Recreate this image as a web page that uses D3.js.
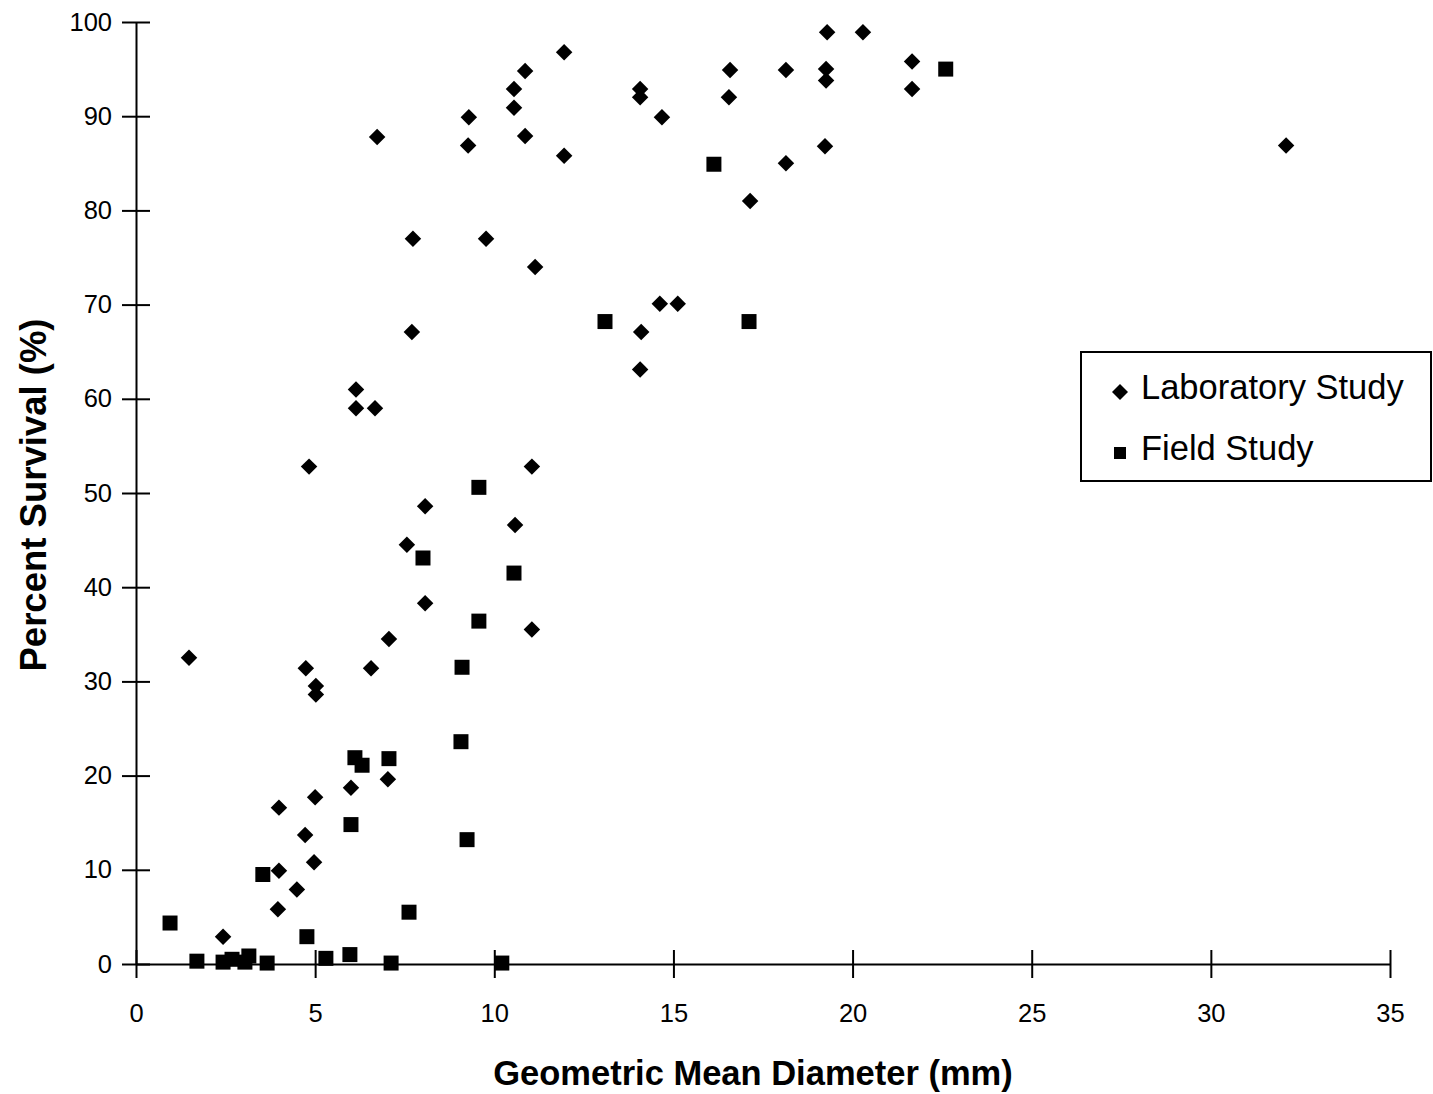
<!DOCTYPE html>
<html>
<head>
<meta charset="utf-8">
<script src="https://cdn.jsdelivr.net/npm/d3@7"></script>
<style>
  html, body { margin: 0; padding: 0; background: #fff; }
  svg { display: block; }
  text { font-family: "Liberation Sans", Arial, sans-serif; fill: #000; }
</style>
</head>
<body>
<svg id="chart" width="1433" height="1094"></svg>
<script>
// Laboratory Study: [diameter (mm), survival (%)]
const labX = [1.48, 2.43, 3.99, 3.99, 3.96, 4.49, 4.72, 4.74, 4.83, 5.02, 5.02, 5.0, 4.97, 6.0, 6.14, 6.14, 6.67, 6.56, 6.73, 7.06, 7.03, 7.56, 7.7, 7.73, 8.07, 8.07, 9.27, 9.29, 9.77, 10.55, 10.55, 10.58, 10.86, 10.86, 11.05, 11.05, 11.14, 11.95, 11.95, 14.07, 14.07, 14.1, 14.07, 14.68, 14.62, 15.12, 16.58, 16.55, 17.14, 18.14, 18.14, 19.29, 19.26, 19.26, 19.23, 20.29, 21.66, 21.66, 32.1];
const labY = [32.5, 2.9, 9.9, 16.6, 5.8, 7.9, 13.7, 31.4, 52.8, 29.5, 28.6, 17.7, 10.8, 18.7, 61.0, 59.0, 59.0, 31.4, 87.8, 34.5, 19.6, 44.5, 67.1, 77.0, 48.6, 38.3, 86.9, 89.9, 77.0, 92.9, 90.9, 46.6, 87.9, 94.8, 52.8, 35.5, 74.0, 96.8, 85.8, 92.9, 92.0, 67.1, 63.1, 89.9, 70.1, 70.1, 94.9, 92.0, 81.0, 94.9, 85.0, 98.9, 95.0, 93.8, 86.8, 98.9, 95.8, 92.9, 86.9];
// Field Study
const fieldX = [0.95, 1.7, 2.43, 2.68, 3.04, 3.15, 3.66, 3.54, 4.77, 5.3, 5.97, 7.12, 7.62, 6.0, 6.11, 6.31, 7.06, 8.01, 9.1, 9.07, 9.24, 9.57, 9.57, 10.55, 10.21, 13.09, 16.13, 17.11, 22.6];
const fieldY = [4.35, 0.3, 0.2, 0.5, 0.2, 0.85, 0.1, 9.5, 2.9, 0.6, 1.0, 0.1, 5.5, 14.8, 21.9, 21.1, 21.8, 43.1, 31.5, 23.6, 13.2, 50.6, 36.4, 41.5, 0.1, 68.2, 84.9, 68.2, 95.0];

const xTicks = [0, 5, 10, 15, 20, 25, 30, 35];
const yTicks = [0, 10, 20, 30, 40, 50, 60, 70, 80, 90, 100];
const seriesNames = ["Laboratory Study", "Field Study"];

const svg = d3.select("#chart");
const x = d3.scaleLinear().domain([0, 35]).range([136, 1390]);
const y = d3.scaleLinear().domain([0, 100]).range([964, 22]);

// X axis with crossing ticks
const xAxis = svg.append("g").attr("transform", `translate(0,${y(0)})`)
  .call(d3.axisBottom(x).tickValues(xTicks).tickSize(14).tickSizeOuter(0).tickPadding(26));
xAxis.selectAll(".tick line").attr("y1", -14).attr("stroke-width", 2);
xAxis.select(".domain").attr("stroke-width", 2);
xAxis.selectAll("text").style("font-size", "25.5px").attr("font-family", "Liberation Sans, Arial, sans-serif");

const yAxis = svg.append("g").attr("transform", `translate(${x(0)},0)`)
  .call(d3.axisLeft(y).tickValues(yTicks).tickSize(14).tickSizeOuter(0).tickPadding(10));
yAxis.selectAll(".tick line").attr("x1", 14).attr("stroke-width", 2);
yAxis.select(".domain").attr("stroke-width", 2);
yAxis.selectAll("text").style("font-size", "25.5px").attr("font-family", "Liberation Sans, Arial, sans-serif");

// Axis titles
svg.append("text").attr("x", 753).attr("y", 1085).attr("text-anchor", "middle")
  .style("font-size", "34.5px").style("font-weight", "bold").text("Geometric Mean Diameter (mm)");
svg.append("text").attr("transform", "translate(46,495) rotate(-90)").attr("text-anchor", "middle")
  .style("font-size", "36.5px").style("font-weight", "bold").text("Percent Survival (%)");

// Points
const labData = labX.map((v, i) => [v, labY[i]]);
const fieldData = fieldX.map((v, i) => [v, fieldY[i]]);
const diamond = d3.symbol().type(d3.symbolSquare).size(136);
const square = d3.symbol().type(d3.symbolSquare).size(225);

svg.append("g").selectAll("path").data(labData).join("path")
  .attr("d", diamond)
  .attr("transform", d => `translate(${x(d[0])},${y(d[1])}) rotate(45)`)
  .attr("fill", "#000");
svg.append("g").selectAll("path").data(fieldData).join("path")
  .attr("d", square)
  .attr("transform", d => `translate(${x(d[0])},${y(d[1])})`)
  .attr("fill", "#000");

// Legend
const lg = svg.append("g");
lg.append("rect").attr("x", 1081).attr("y", 352).attr("width", 350).attr("height", 129)
  .attr("fill", "#fff").attr("stroke", "#000").attr("stroke-width", 2);
lg.append("path").attr("d", d3.symbol().type(d3.symbolSquare).size(128))
  .attr("transform", "translate(1120,392) rotate(45)").attr("fill", "#000");
lg.append("path").attr("d", d3.symbol().type(d3.symbolSquare).size(144))
  .attr("transform", "translate(1120,453)").attr("fill", "#000");
lg.append("text").attr("x", 1141).attr("y", 399).style("font-size", "34.5px").text(seriesNames[0]);
lg.append("text").attr("x", 1141).attr("y", 460).style("font-size", "34.5px").text(seriesNames[1]);
</script>
</body>
</html>
